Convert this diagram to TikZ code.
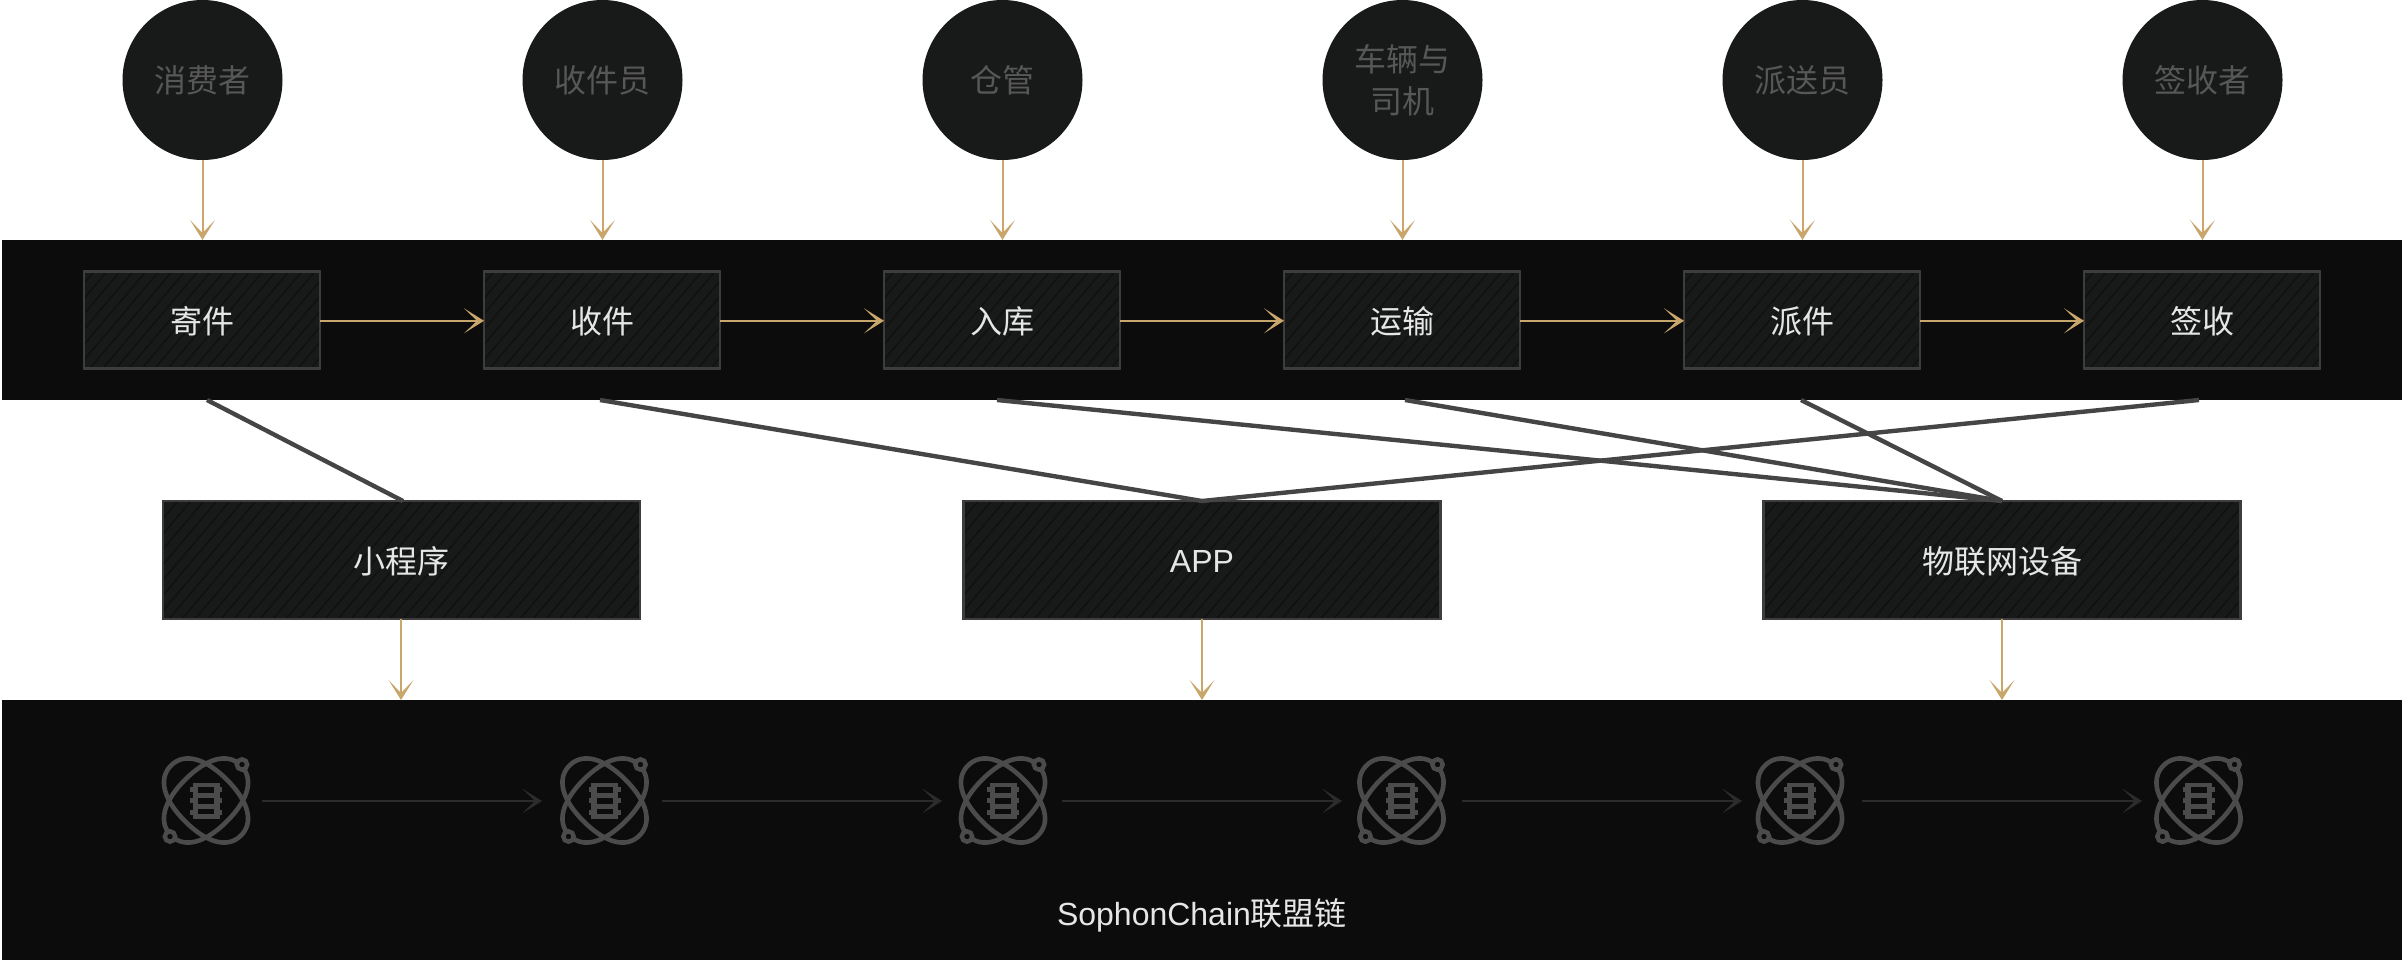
\documentclass[tikz,border=0pt]{standalone}
\usepackage{fontspec}
\setmainfont{Noto Sans CJK SC}
\newfontfamily\latinfont{Liberation Sans}
\usetikzlibrary{arrows.meta,calc}
\definecolor{bandc}{HTML}{0C0C0C}
\definecolor{boxc}{HTML}{181A19}
\definecolor{hatchc}{HTML}{101211}
\definecolor{edgec}{HTML}{3C3D3C}
\definecolor{goldc}{HTML}{C9A66B}
\definecolor{linkc}{HTML}{454545}
\definecolor{iconc}{HTML}{4A4B4A}
\definecolor{chainc}{HTML}{2B2C2B}
\definecolor{mutedc}{HTML}{565756}
\definecolor{textc}{HTML}{E6E6E6}
\newcommand\nudged[1]{\raisebox{-1.5pt}[\height][\depth]{#1}}
\tikzset{
  x=1pt,y=-1pt,
  tipgold/.style={-{Stealth[length=20pt,width=25pt,inset=13pt,color=goldc]}},
  goldarrow/.style={tipgold,draw=goldc,line width=2pt},
  chainarrow/.style={-{Stealth[length=20pt,width=25pt,inset=13pt,color=chainc]},draw=chainc,line width=2pt},
  linkline/.style={draw=linkc,line width=4.4pt},
  role/.style={circle,fill=boxc,minimum size=160pt,inner sep=0pt,outer sep=0pt,text=mutedc,align=center,font=\fontsize{32}{42}\selectfont},
  band/.style={fill=bandc,inner sep=0pt,outer sep=0pt,minimum width=2400pt,text=textc},
  hatchbox/.style={rectangle,fill=boxc,draw=edgec,line width=2.4pt,inner sep=0pt,outer sep=0pt,text=textc,font=\fontsize{32}{40}\selectfont,
    path picture={\foreach \i in {-150,-137,...,520}{
      \draw[hatchc,line width=1.5pt] ($(path picture bounding box.south west)+(\i pt,0pt)$) -- ++(110,-130);}}},
  stepbox/.style={hatchbox,minimum width=236pt,minimum height=97pt},
  devbox/.style={hatchbox,minimum width=477pt,minimum height=118pt},
  atom/.pic={
    \begin{scope}[draw=iconc,line width=4.6pt]
      \foreach \r in {45,-45}{
        \draw[rotate=\r] (49.5,0)
          .. controls (49.5,18.5) and (31,29.5) .. (0,29.5)
          .. controls (-31,29.5) and (-49.5,18.5) .. (-49.5,0)
          .. controls (-49.5,-18.5) and (-31,-29.5) .. (0,-29.5)
          .. controls (31,-29.5) and (49.5,-18.5) .. (49.5,0) -- cycle;}
      \draw[fill=bandc,line width=4.4pt] (36,-36) circle [radius=5.2pt];
      \draw[fill=bandc,line width=4.4pt] (-36,36) circle [radius=5.2pt];
    \end{scope}
    \fill[iconc] (-13.5,-18) rectangle (13.5,18);
    \foreach \yy in {-14,-2.5,9}{\fill[iconc] (-16,\yy) rectangle (16,\yy+5);}
    \fill[bandc] (-8,-13.5) rectangle (8,-8);
    \fill[bandc] (-8,-3) rectangle (8,3);
    \fill[bandc] (-8,8) rectangle (8,13);
  }
}
\begin{document}
\begin{tikzpicture}
\useasboundingbox (0,0) rectangle (2402,960);
% bands
\node[band,minimum height=160pt,anchor=north west] (flow) at (2,240) {};
\node[band,minimum height=260pt,anchor=north west] (chain) at (2,700) {};
% roles
\node[role] (c1) at (202.5,80) {消费者};
\node[role] (c2) at (602.5,80) {收件员};
\node[role] (c3) at (1002.5,80) {仓管};
\node[role] (c4) at (1402.5,80) {车辆与\\司机};
\node[role] (c5) at (1802.5,80) {派送员};
\node[role] (c6) at (2202.5,80) {签收者};
% steps
\node[stepbox] (s1) at (202,319.8) {\nudged{寄件}};
\node[stepbox] (s2) at (602,319.8) {\nudged{收件}};
\node[stepbox] (s3) at (1002,319.8) {\nudged{入库}};
\node[stepbox] (s4) at (1402,319.8) {\nudged{运输}};
\node[stepbox] (s5) at (1802,319.8) {\nudged{派件}};
\node[stepbox] (s6) at (2202,319.8) {\nudged{签收}};
% devices
\node[devbox] (d1) at (401.5,560) {\nudged{小程序}};
\node[devbox] (d2) at (1202,560) {\nudged{\latinfont APP}};
\node[devbox] (d3) at (2002,560) {\nudged{物联网设备}};
% link ends on the lower edge of the flow band
\coordinate (b1) at ($(s1 |- flow.south)+(5pt,0pt)$);
\coordinate (b2) at ($(s2 |- flow.south)+(-2pt,0pt)$);
\coordinate (b3) at ($(s3 |- flow.south)+(-5pt,0pt)$);
\coordinate (b4) at ($(s4 |- flow.south)+(3pt,0pt)$);
\coordinate (b5) at ($(s5 |- flow.south)+(-1pt,0pt)$);
\coordinate (b6) at ($(s6 |- flow.south)+(-3pt,0pt)$);
\coordinate (t1) at ($(d1.north)+(1.5pt,0pt)$);
\draw[linkline] (b1) -- (t1);
\draw[linkline] (b2) -- (d2.north);
\draw[linkline] (b3) -- (d3.north);
\draw[linkline] (b4) -- (d3.north);
\draw[linkline] (b5) -- (d3.north);
\draw[linkline] (b6) -- (d2.north);
% role arrows
\foreach \k in {1,...,6}{\draw[goldarrow] (c\k.south) -- (c\k.south |- flow.north);}
% step arrows
\foreach \a/\b in {1/2,2/3,3/4,4/5,5/6}{\draw[goldarrow] ([yshift=-1pt]s\a.east) -- ([yshift=-1pt]s\b.west);}
% device arrows
\coordinate (f1) at ($(d1.south)+(-0.5pt,0pt)$);
\coordinate (f2) at (d2.south);
\coordinate (f3) at (d3.south);
\foreach \k in {1,2,3}{\draw[goldarrow,line width=1.6pt] (f\k) -- (f\k |- chain.north);}
% chain icons
\coordinate (i1) at (206,800.5);
\coordinate (i2) at (604.5,800.5);
\coordinate (i3) at (1003,800.5);
\coordinate (i4) at (1401.5,800.5);
\coordinate (i5) at (1800,800.5);
\coordinate (i6) at (2198.5,800.5);
\foreach \k in {1,...,6}{\pic at (i\k) {atom};}
\coordinate (a1) at (262,801); \coordinate (e1) at (542,801);
\coordinate (a2) at (662,801); \coordinate (e2) at (942,801);
\coordinate (a3) at (1062,801); \coordinate (e3) at (1342,801);
\coordinate (a4) at (1462,801); \coordinate (e4) at (1742,801);
\coordinate (a5) at (1862,801); \coordinate (e5) at (2142,801);
\foreach \k in {1,...,5}{\draw[chainarrow] (a\k) -- (e\k);}
\node[text=textc,font=\fontsize{32}{40}\selectfont,inner sep=0pt] (t) at (1202,915) {{\latinfont SophonChain}联盟链};
\end{tikzpicture}
\end{document}
